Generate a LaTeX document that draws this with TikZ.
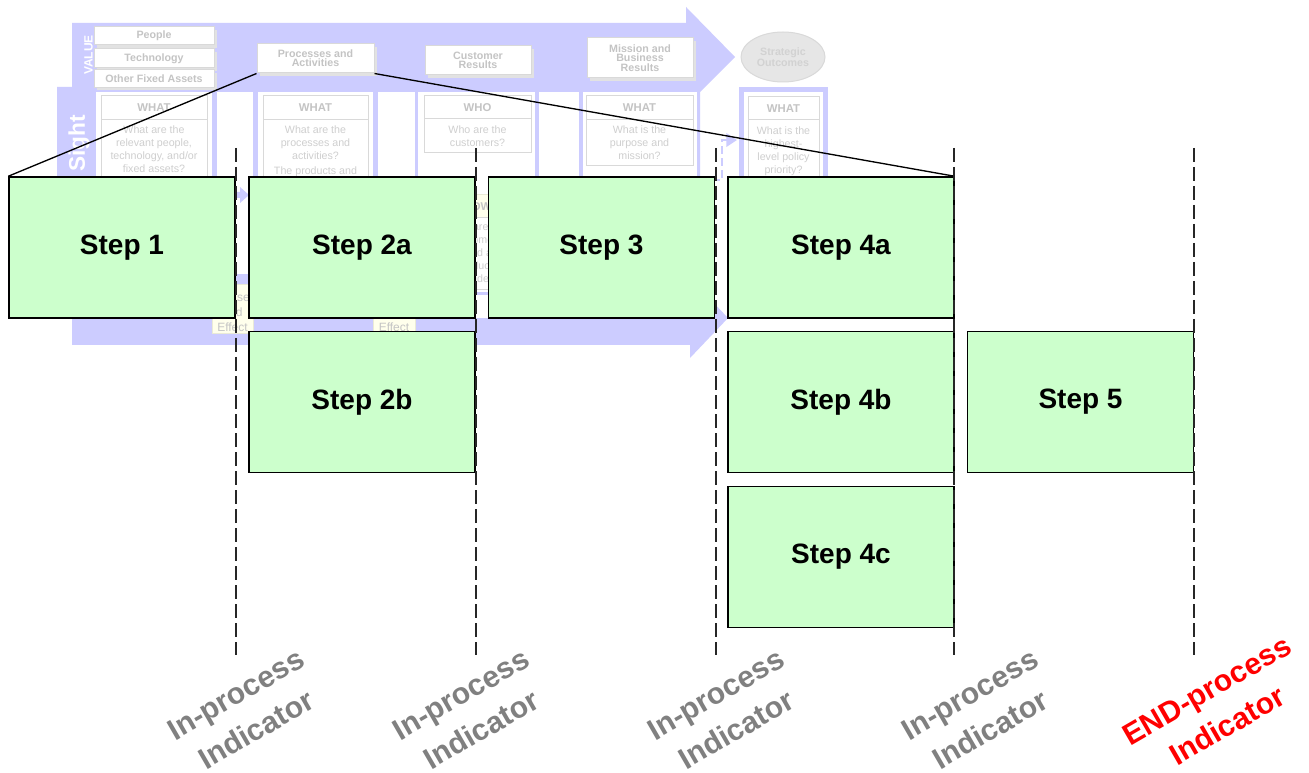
\documentclass[tikz,border=0pt]{standalone}
\usepackage{fontspec}
\setmainfont{Liberation Sans}
\usetikzlibrary{shapes.geometric,shadows,arrows.meta}
\definecolor{lav}{HTML}{CCCCFF}
\definecolor{stepgreen}{HTML}{CCFFCC}
\definecolor{faint}{HTML}{C4C4C4}
\definecolor{fainter}{HTML}{CFCFCF}
\definecolor{boxline}{HTML}{D9D9D9}
\definecolor{shadowgray}{HTML}{E2E2E2}
\definecolor{beige}{HTML}{FFFFEC}
\definecolor{beigeline}{HTML}{EAEAD6}
\definecolor{ovalfill}{HTML}{E6E6E6}
\definecolor{ovaltext}{HTML}{D2D2D2}
\definecolor{indgray}{HTML}{808080}
\begin{document}
\begin{tikzpicture}[x=0.75pt, y=-0.75pt,
  chartbox/.style={draw=boxline, line width=0.75pt, fill=white, inner sep=0pt,
    drop shadow={shadow xshift=2.25pt, shadow yshift=-2.25pt, fill=shadowgray, opacity=1},
    text=faint, align=center, font=\bfseries\fontsize{8}{7}\selectfont},
  panelbox/.style={draw=boxline, line width=0.75pt, fill=white},
  hdr/.style={text=faint, inner sep=0pt, font=\bfseries\fontsize{8.5}{10}\selectfont},
  body/.style={text=fainter, inner sep=0pt, align=center, anchor=north,
    font=\fontsize{8}{9.75}\selectfont},
  effbox/.style={draw=beigeline, line width=0.75pt, fill=beige, inner sep=0pt},
  efftext/.style={text=faint, inner sep=0pt, align=center, font=\fontsize{9}{11.25}\selectfont},
  stepbox/.style={draw=black, line width=1.1pt, fill=stepgreen, inner sep=0pt,
    minimum width=169.5pt, minimum height=105.75pt,
    font=\bfseries\fontsize{21}{25}\selectfont},
  funnel/.style={draw=black, line width=1pt},
  divider/.style={draw=black!85, line width=1.3pt, dash pattern=on 10.5pt off 3.75pt},
  indicator/.style={rotate=30, align=center, inner sep=0pt,
    font=\bfseries\fontsize{22.5}{30.5}\selectfont},
]
\fill[white] (0,0) rectangle (1309,773);
\useasboundingbox (0,0) rectangle (1309,773);

% ---------- faded line-of-sight chart ----------
\fill[lav] (72,23) -- (686,23) -- (686,7) -- (735,57) -- (700,92) -- (700,291)
  -- (690,291) -- (690,278) -- (728,318) -- (690,358) -- (690,345) -- (72,345)
  -- (72,318) -- (57,318) -- (57,87) -- (72,87) -- cycle;

% column panels and the gaps between them
\fill[white] (96,92) rectangle (212,292);
\fill[white] (217,92) rectangle (253,274);
\fill[white] (258,92) rectangle (373,292);
\fill[white] (378,92) rectangle (415,274);
\fill[white] (418,92) rectangle (535,292);
\fill[white] (418,295) rectangle (535,318);
\fill[white] (539,92) rectangle (579,274);
\fill[white] (583,92) rectangle (697,292);

% outcome column frame
\draw[lav, line width=3.75pt, fill=white] (741.5,89.5) rectangle (825.5,240);

% small flow arrow between the first two columns
\fill[lav] (222,192) -- (240,192) -- (240,187) -- (249,195) -- (240,203)
  -- (240,198) -- (222,198) -- cycle;

% dashed link into the outcome column
\draw[lav, line width=2pt, dash pattern=on 6pt off 3pt,
  -{Triangle[length=8pt,width=10pt]}] (712,180) -- (722,180) -- (722,140) -- (737,140);

% side labels
\node[rotate=90, text=white, inner sep=0pt, font=\bfseries\fontsize{9}{10}\selectfont]
  (value) at (88.5,55) {VALUE};
\node[rotate=90, text=white, inner sep=0pt, font=\bfseries\fontsize{17}{20}\selectfont]
  (sight) at (79,143.5) {Sight};

% top row of value boxes
\node[chartbox, minimum width=90pt, minimum height=13.5pt] (people) at (154,36) {People};
\node[chartbox, minimum width=90pt, minimum height=14.25pt] (tech) at (154,58.5) {Technology};
\node[chartbox, minimum width=90pt, minimum height=13pt] (assets) at (154,78.5) {Other Fixed Assets};
\node[chartbox, minimum width=87.75pt, minimum height=21.75pt] (proc) at (315.5,58.5) {Processes and\\Activities};
\node[chartbox, minimum width=79.5pt, minimum height=21.75pt] (cust) at (478,60.5) {Customer\\Results};
\node[chartbox, minimum width=79.5pt, minimum height=30pt] (mission) at (640,58) {Mission and\\Business\\Results};
\node[ellipse, draw=boxline, line width=0.75pt, fill=ovalfill, inner sep=0pt,
  minimum width=63pt, minimum height=37.5pt, text=ovaltext, align=center,
  font=\bfseries\fontsize{8}{7}\selectfont] (outcome) at (783,57) {Strategic\\Outcomes};

% question boxes
\draw[panelbox] (101,96) rectangle (207,262);
\draw[boxline, line width=0.75pt] (101,120) -- (207,120);
\node[hdr] (whatA) at (154,108) {WHAT};
\node[body] (qA) at (154,126) {What are the\\relevant people,\\technology, and/or\\fixed assets?};

\draw[panelbox] (263,96) rectangle (368,262);
\draw[boxline, line width=0.75pt] (263,120) -- (368,120);
\node[hdr] (whatB) at (315.5,108) {WHAT};
\node[body] (qB) at (315.5,126) {What are the\\processes and\\activities?\\[1.5pt]The products and};

\draw[panelbox] (424,96) rectangle (531,153);
\draw[boxline, line width=0.75pt] (424,119) -- (531,119);
\node[hdr] (whoC) at (477.5,108) {WHO};
\node[body] (qC) at (477.5,126) {Who are the\\customers?};

\node[effbox, minimum width=80.25pt, minimum height=17.25pt, text=faint,
  font=\bfseries\fontsize{8.5}{10}\selectfont] (how) at (477.5,206.5) {HOW};
\draw[panelbox] (424,218) rectangle (531,290);
\node[body] (qHow) at (477.5,223) {How are the\\customers\\served and\\products\\provided?};

\draw[panelbox] (586,96) rectangle (693,166);
\draw[boxline, line width=0.75pt] (586,120) -- (693,120);
\node[hdr] (whatD) at (639.5,108) {WHAT};
\node[body] (qD) at (639.5,126) {What is the\\purpose and\\mission?};

\draw[panelbox] (748,97) rectangle (819,190);
\draw[boxline, line width=0.75pt] (748,120) -- (819,120);
\node[hdr] (whatE) at (783.5,109) {WHAT};
\node[body] (qE) at (783.5,126.5) {What is the\\highest-\\level policy\\priority?};

% cause and effect tags
\node[effbox, minimum width=30.75pt, minimum height=36.75pt] (ce1) at (232.5,309.5) {};
\node[efftext] (ce1t) at (232.5,312) {Cause\\and\\Effect};
\node[effbox, minimum width=31.5pt, minimum height=36.75pt] (ce2) at (394,309.5) {};
\node[efftext] (ce2t) at (394,327) {Effect};

% ---------- process steps ----------
\node[stepbox] (s1)  at (122,247.5)   {Step 1};
\node[stepbox] (s2a) at (362,247.5)   {Step 2a};
\node[stepbox] (s2b) at (362,402)     {Step 2b};
\node[stepbox] (s3)  at (601.5,247.5) {Step 3};
\node[stepbox] (s4a) at (841,247.5)   {Step 4a};
\node[stepbox] (s4b) at (841,402)     {Step 4b};
\node[stepbox] (s4c) at (841,557)     {Step 4c};
\node[stepbox] (s5)  at (1080.5,402)  {Step 5};

% zoom lines from the process box to the step row
\draw[funnel] (proc.south west) -- (s1.north west);
\draw[funnel] (proc.south east) -- (s4a.north east);

% indicator dividers
\coordinate (t1) at (236,148);  \coordinate (b1) at (236,655);
\coordinate (t2) at (476,148);  \coordinate (b2) at (476,655);
\coordinate (t3) at (716,148);  \coordinate (b3) at (716,655);
\coordinate (t4) at (954,148);  \coordinate (b4) at (954,655);
\coordinate (t5) at (1194,148); \coordinate (b5) at (1194,655);
\foreach \i in {1,...,5} \draw[divider] (t\i) -- (b\i);

% indicator labels
\node[indicator, text=indgray] (ind1) at (246,712) {In-process\\Indicator};
\node[indicator, text=indgray] (ind2) at (471,712) {In-process\\Indicator};
\node[indicator, text=indgray] (ind3) at (726,712) {In-process\\Indicator};
\node[indicator, text=indgray] (ind4) at (980,712) {In-process\\Indicator};
\node[indicator, text=red] (ind5) at (1217,708) {END-process\\Indicator};
\end{tikzpicture}
\end{document}
